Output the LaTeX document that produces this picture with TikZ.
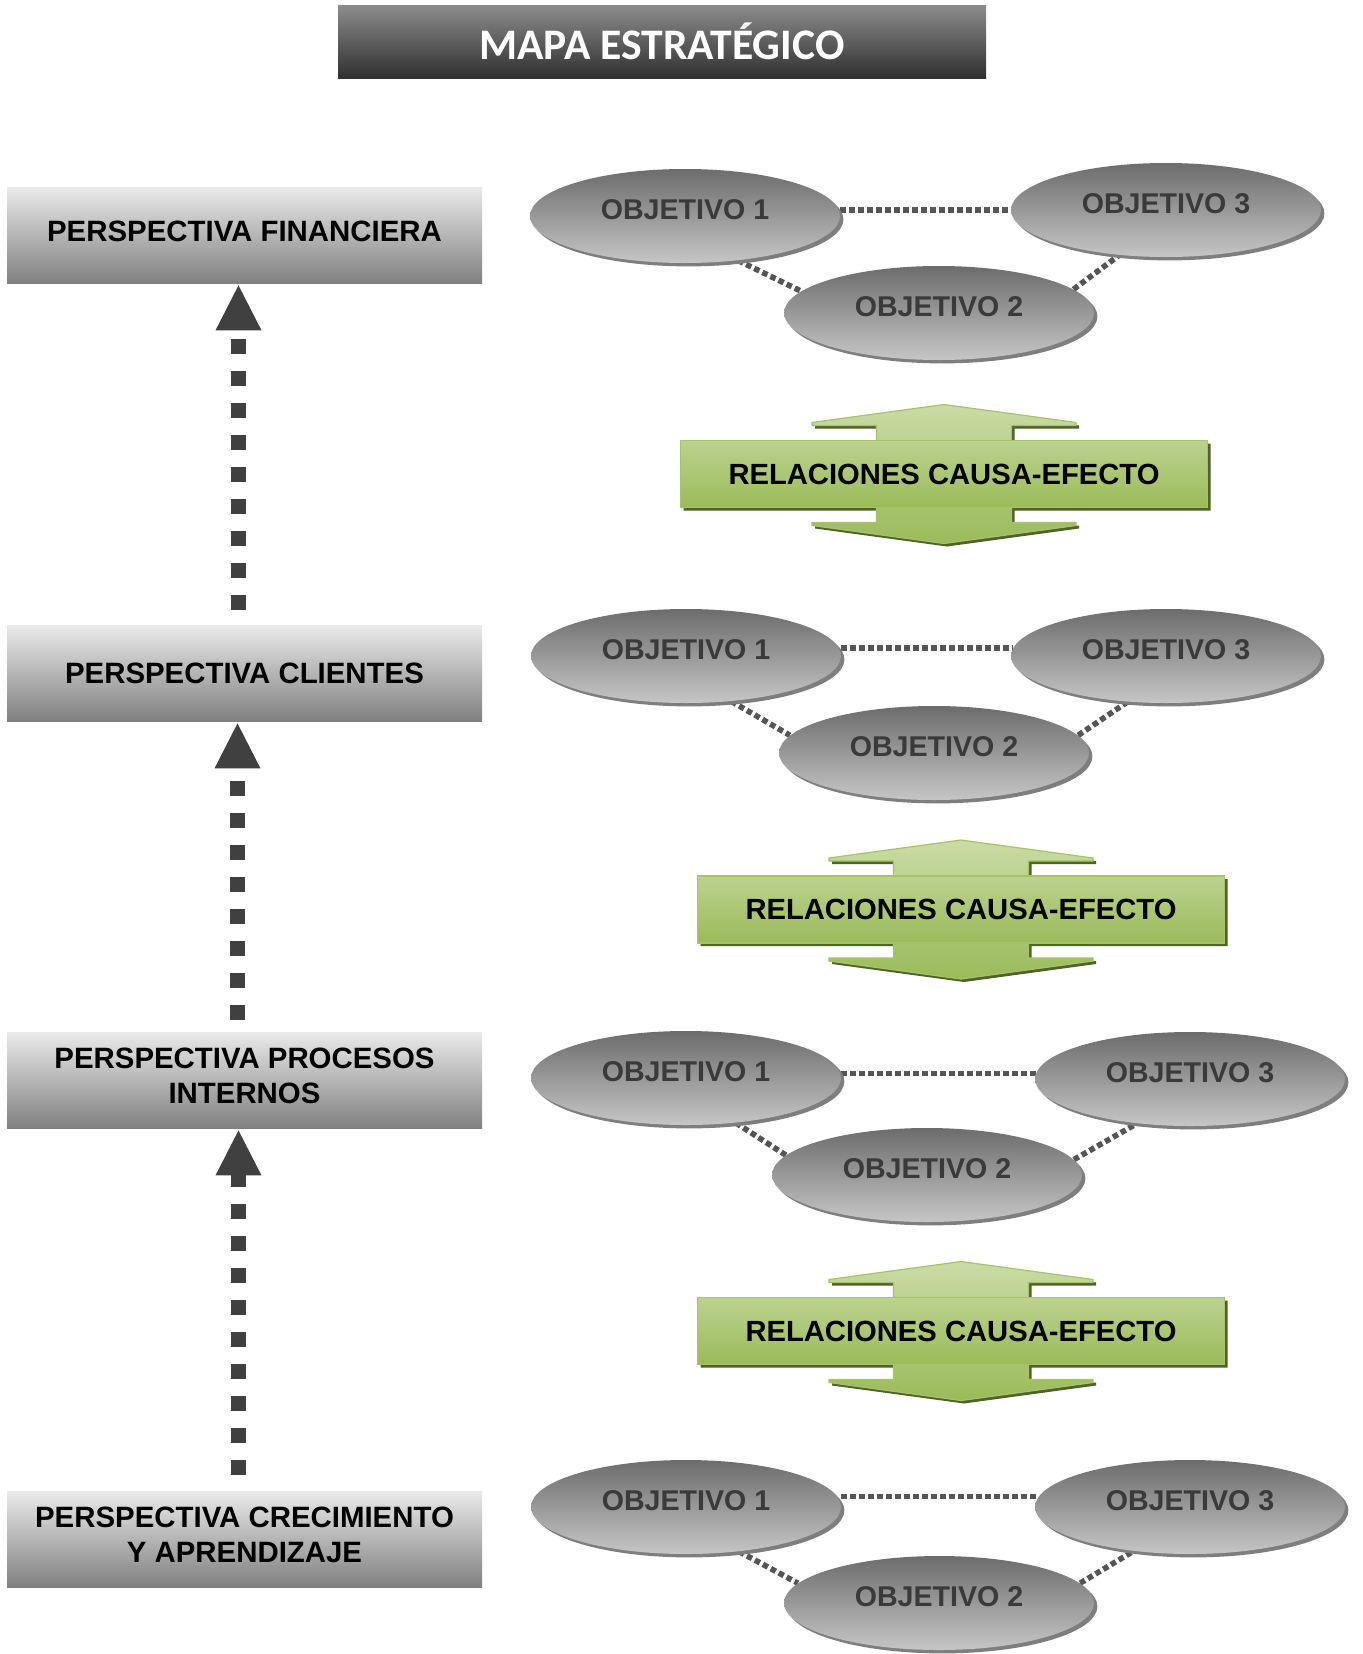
\documentclass[tikz,border=0pt]{standalone}
\usepackage{fontspec}
\setmainfont{Liberation Sans}
\newfontfamily\titlefont{Carlito}
\usetikzlibrary{calc,shadows,shapes.geometric,backgrounds}

\definecolor{titletop}{HTML}{8C8C8C}
\definecolor{titlebot}{HTML}{303030}
\definecolor{persptop}{HTML}{EAEAEA}
\definecolor{perspbot}{HTML}{808080}
\definecolor{objtop}{HTML}{6C6C6C}
\definecolor{objbot}{HTML}{C6C6C6}
\definecolor{objshadow}{HTML}{7E7E7E}
\definecolor{objtext}{HTML}{3A3A3A}
\definecolor{dotgray}{HTML}{555555}
\definecolor{flowgray}{HTML}{404040}
\definecolor{greenlight}{HTML}{C9DCA6}
\definecolor{greenmid}{HTML}{B3CB80}
\definecolor{greendark}{HTML}{9BBB59}
\definecolor{greenbody}{HTML}{BCD28F}
\definecolor{greenshadow}{HTML}{4F6228}
\definecolor{greenedge}{HTML}{A6C36A}

% double-headed green arrow behind a "RELACIONES CAUSA-EFECTO" label
\newcommand\causearrows[1]{%
  \begin{scope}[shift={(#1)}]
    \fill[greenshadow] (3,-66.5) -- (135,-48.5) -- (135,-45.5) -- (70.5,-45.5) -- (70.5,-30.5)
      -- (266.5,-30.5) -- (266.5,36.5) -- (70.5,36.5) -- (70.5,51.5) -- (135,51.5) -- (135,54.5)
      -- (3,72.5) -- (-129,54.5) -- (-129,51.5) -- (-64.5,51.5) -- (-64.5,36.5) -- (-260.5,36.5)
      -- (-260.5,-30.5) -- (-64.5,-30.5) -- (-64.5,-45.5) -- (-129,-45.5) -- (-129,-48.5) -- cycle;
    \path[draw=greenedge, line width=0.6pt, top color=greenlight, middle color=greenmid, bottom color=greendark]
      (0,-69.5) -- (132,-51.5) -- (132,-48.5) -- (67.5,-48.5) -- (67.5,48.5) -- (132,48.5)
      -- (132,51.5) -- (0,69.5) -- (-132,51.5) -- (-132,48.5) -- (-67.5,48.5) -- (-67.5,-48.5)
      -- (-132,-48.5) -- (-132,-51.5) -- cycle;
  \end{scope}%
}

\begin{document}
\begin{tikzpicture}[x=0.5pt,y=-0.5pt,
  titlebar/.style={rectangle, minimum width=324pt, minimum height=36.5pt, inner sep=0pt,
    top color=titletop, bottom color=titlebot, text=white,
    font=\titlefont\bfseries\fontsize{21.8}{25}\selectfont},
  persp/.style={rectangle, minimum width=237.5pt, minimum height=48pt, inner sep=0pt,
    top color=persptop, bottom color=perspbot, align=center, text=black,
    font=\bfseries\fontsize{14.7}{17.5}\selectfont},
  oneline/.style={text height=11pt, text depth=5pt},
  twoline/.style={text depth=4pt},
  objetivo/.style={ellipse, minimum width=155pt, minimum height=47pt, inner sep=0pt,
    top color=objtop, bottom color=objbot, text=objtext,
    text height=10pt, text depth=7pt,
    font=\bfseries\fontsize{14.3}{17}\selectfont,
    drop shadow={shadow xshift=1.7pt, shadow yshift=-1.7pt, opacity=1, fill=objshadow}},
  relbody/.style={rectangle, minimum width=263.5pt, minimum height=33.5pt, inner sep=0pt,
    top color=greenbody, bottom color=greendark, draw=greenedge, line width=0.6pt,
    text=black, font=\bfseries\fontsize{14.6}{18}\selectfont},
  vshaft/.style={draw=flowgray, line width=7.5pt, dash pattern=on 7.5pt off 8.5pt},
  vhead/.style={fill=flowgray},
  dots/.style={draw=dotgray, line width=2.8pt, dash pattern=on 2.8pt off 1.7pt}]

\useasboundingbox (0,0) rectangle (1362,1654);
\begin{pgfonlayer}{background}
  \fill[white] (0,0) rectangle (1362,1654);
\end{pgfonlayer}

% title
\node[titlebar] (title) at (662,41.5) {MAPA ESTRATÉGICO};

% perspectives
\node[persp,oneline] (fin)  at (244.5,235)  {PERSPECTIVA FINANCIERA};
\node[persp]         (cli)  at (244.5,673)  {PERSPECTIVA CLIENTES};
\node[persp,twoline] (proc) at (244.5,1080) {PERSPECTIVA PROCESOS\\INTERNOS};
\node[persp,twoline] (crec) at (244.5,1539) {PERSPECTIVA CRECIMIENTO\\Y APRENDIZAJE};

% upward flow between perspectives
\draw[vshaft] ($(cli.north)+(-6,-15)$) -- ($(fin.south)+(-6,47)$);
\fill[vhead] ($(fin.south)+(-6,2)$) -- ++(23,45) -- ++(-46,0) -- cycle;
\draw[vshaft] ($(proc.north)+(-7,-12)$) -- ($(cli.south)+(-7,47)$);
\fill[vhead] ($(cli.south)+(-7,2)$) -- ++(23,45) -- ++(-46,0) -- cycle;
\draw[vshaft] ($(crec.north)+(-6,-16)$) -- ($(proc.south)+(-6,47)$);
\fill[vhead] ($(proc.south)+(-6,2)$) -- ++(23,45) -- ++(-46,0) -- cycle;

% objectives
\node[objetivo] (a1) at (685,216)   {OBJETIVO 1};
\node[objetivo] (a3) at (1166,210)  {OBJETIVO 3};
\node[objetivo] (a2) at (939,313)   {OBJETIVO 2};

\node[objetivo] (b1) at (686,656)   {OBJETIVO 1};
\node[objetivo] (b3) at (1166,656)  {OBJETIVO 3};
\node[objetivo] (b2) at (934,753)   {OBJETIVO 2};

\node[objetivo] (c1) at (686,1078)  {OBJETIVO 1};
\node[objetivo] (c3) at (1190,1079) {OBJETIVO 3};
\node[objetivo] (c2) at (927,1175)  {OBJETIVO 2};

\node[objetivo] (d1) at (686,1507)  {OBJETIVO 1};
\node[objetivo] (d3) at (1190,1507) {OBJETIVO 3};
\node[objetivo] (d2) at (939,1603)  {OBJETIVO 2};

% links between objectives
\begin{pgfonlayer}{background}
  \draw[dots] (a3.west -| a1.east) -- (a3.west);
  \draw[dots] (a1.-40) -- (a2.171);
  \draw[dots] (a2.10) -- (a3.-136);

  \draw[dots] (b3.177 -| b1.east) -- (b3.177);
  \draw[dots] (b1.-45) -- (b2.173);
  \draw[dots] (b2.7) -- (b3.-130);

  \draw[dots] (c3.178 -| c1.east) -- (c3.178);
  \draw[dots] (c1.-42) -- (c2.172);
  \draw[dots] (c2.6) -- (c3.-140);

  \draw[dots] (d3.176 -| d1.east) -- (d3.176);
  \draw[dots] (d1.-40) -- (d2.172);
  \draw[dots] (d2.8) -- (d3.-142);
\end{pgfonlayer}

% cause-effect relations
\coordinate (gc1) at (944,474);
\causearrows{gc1}
\node[relbody] (rel1) at (gc1) {RELACIONES CAUSA-EFECTO};

\coordinate (gc2) at (961,909.5);
\causearrows{gc2}
\node[relbody] (rel2) at (gc2) {RELACIONES CAUSA-EFECTO};

\coordinate (gc3) at (961,1331);
\causearrows{gc3}
\node[relbody] (rel3) at (gc3) {RELACIONES CAUSA-EFECTO};

\end{tikzpicture}
\end{document}
